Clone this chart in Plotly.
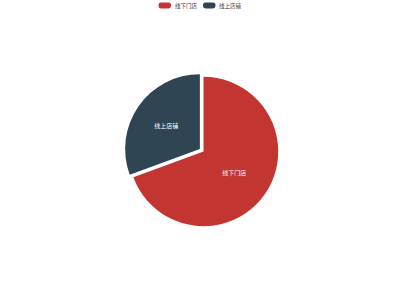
import plotly.graph_objects as go

labels = ["线下门店", "线上店铺"]
values = [69.4, 30.6]
colors = ["#c23531", "#2f4554"]
pulls = [0, 0.06]

W, H = 400, 300

fig = go.Figure(go.Pie(
    labels=labels,
    values=values,
    marker=dict(colors=colors, line=dict(width=0)),
    pull=pulls,
    sort=False,
    direction="clockwise",
    rotation=0,
    textinfo="label",
    textposition="inside",
    insidetextorientation="horizontal",
    textfont=dict(color="white", size=6, family="Noto Sans CJK SC"),
    domain=dict(x=[0.3108, 0.7068], y=[0.231, 0.759]),
    hoverinfo="label+percent",
    showlegend=False,
))

# custom legend (rounded-rect icons + text), laid out in pixels
def rrect(x0, y0, x1, y1, r):
    def p(x, y):
        return f"{x / W:.5f},{1 - y / H:.5f}"
    return (f"M{p(x0 + r, y0)} L{p(x1 - r, y0)} Q{p(x1, y0)} {p(x1, y0 + r)} "
            f"L{p(x1, y1 - r)} Q{p(x1, y1)} {p(x1 - r, y1)} L{p(x0 + r, y1)} "
            f"Q{p(x0, y1)} {p(x0, y1 - r)} L{p(x0, y0 + r)} Q{p(x0, y0)} {p(x0 + r, y0)} Z")

legend_x = [158.5, 203]
shapes, annotations = [], []
for lx, lab, col in zip(legend_x, labels, colors):
    shapes.append(dict(type="path", xref="paper", yref="paper",
                       path=rrect(lx, 2.5, lx + 12.5, 8.5, 2.5),
                       fillcolor=col, line=dict(width=0)))
    annotations.append(dict(x=(lx + 14) / W, y=1 - 5.6 / H, xref="paper", yref="paper",
                            text=lab, showarrow=False, xanchor="left", yanchor="middle",
                            font=dict(size=5.5, color="#333", family="Noto Sans CJK SC")))

fig.update_layout(
    width=W, height=H,
    margin=dict(l=0, r=0, t=0, b=0),
    paper_bgcolor="white",
    font=dict(family="Noto Sans CJK SC", size=6, color="#333"),
    shapes=shapes,
    annotations=annotations,
    showlegend=False,
)

fig.write_html("out.html")
